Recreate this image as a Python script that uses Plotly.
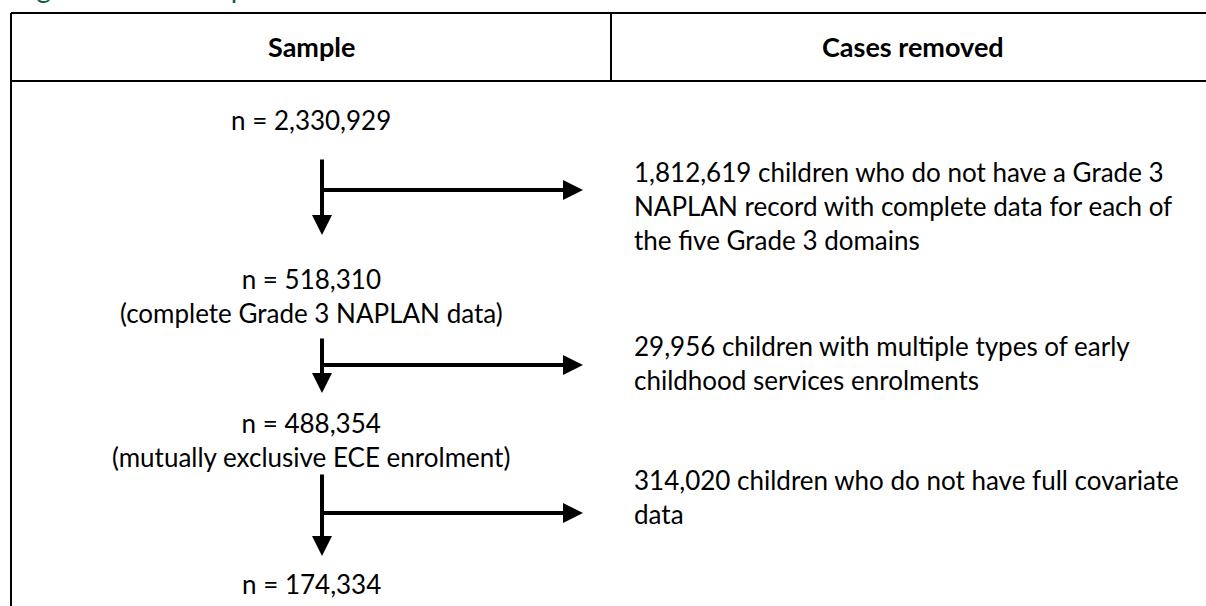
import plotly.graph_objects as go

# sample sizes at each step of the selection
sample_n = [2330929, 518310, 488354, 174334]
sample_note = ["", "complete Grade 3 NAPLAN data", "mutually exclusive ECE enrolment", ""]

# cases removed between steps
removed_n = [1812619, 29956, 314020]
removed_desc = [
    "children who do not have a Grade 3<br>NAPLAN record with complete data for each of<br>the five Grade 3 domains",
    "children with multiple types of early<br>childhood services enrolments",
    "children who do not have full covariate<br>data",
]

headers = ["Sample", "Cases removed"]
title = "Figure 1: The sample selection"

W, H = 1206, 606
FONT = "Lato, Open Sans, sans-serif"
FS = 26

# layout (pixels from top-left)
left_x, div_x = 11, 611
top_y, head_y = 13, 81
col_x = 311
arrow_x = 322
tip_x = 583
text_x = 632
sample_y = [120, 296, 440, 584]
arrow_rows = [(158, 190, 235), (337, 365, 393), (473, 513, 556)]
removed_y = [206, 363, 497]

fig = go.Figure()
fig.add_trace(go.Scatter(x=[0, W], y=[0, H], mode="markers", marker=dict(opacity=0),
                         hoverinfo="skip", showlegend=False))

# table rules
line = dict(color="black", width=2)
fig.add_shape(type="line", x0=left_x, x1=W + 5, y0=top_y, y1=top_y, line=line)
fig.add_shape(type="line", x0=left_x, x1=W + 5, y0=head_y, y1=head_y, line=line)
fig.add_shape(type="line", x0=div_x, x1=div_x, y0=top_y, y1=head_y, line=line)
fig.add_shape(type="line", x0=left_x, x1=left_x, y0=top_y, y1=H + 5, line=line)

# title (sits above the visible area, only descenders show)
fig.add_annotation(x=12 / W, y=1 + 13 / H, xref="paper", yref="paper", text=title, showarrow=False,
                   xanchor="left", yanchor="middle",
                   font=dict(family=FONT, size=28, color="#135e47"))

# headers
fig.add_annotation(x=col_x, y=46, text="<b>%s</b>" % headers[0], showarrow=False,
                   font=dict(family=FONT, size=27, color="black"))
fig.add_annotation(x=913, y=46, text="<b>%s</b>" % headers[1], showarrow=False,
                   font=dict(family=FONT, size=27, color="black"))

# sample counts
for n, note, y in zip(sample_n, sample_note, sample_y):
    txt = f"n = {n:,}"
    if note:
        txt += f"<br>({note})"
    fig.add_annotation(x=col_x, y=y, text=txt, showarrow=False, align="center",
                       font=dict(family=FONT, size=FS, color="black"))

# arrows and removed cases
arrow = dict(xref="x", yref="y", axref="x", ayref="y", text="", showarrow=True,
             arrowhead=2, arrowsize=1, arrowwidth=4, arrowcolor="black", standoff=0)
for n, desc, (y0, yh, y1), ty in zip(removed_n, removed_desc, arrow_rows, removed_y):
    fig.add_annotation(x=arrow_x, y=y1, ax=arrow_x, ay=y0, **arrow)
    fig.add_annotation(x=tip_x, y=yh, ax=arrow_x - 2, ay=yh, **arrow)
    fig.add_annotation(x=text_x, y=ty, text=f"{n:,} {desc}", showarrow=False, xanchor="left",
                       align="left", font=dict(family=FONT, size=FS, color="black"))

fig.update_xaxes(range=[0, W], visible=False, fixedrange=True)
fig.update_yaxes(range=[H, 0], visible=False, fixedrange=True)
fig.update_layout(width=W, height=H, margin=dict(l=0, r=0, t=0, b=0),
                  paper_bgcolor="white", plot_bgcolor="white", showlegend=False)

fig.write_html("out.html", config={"displayModeBar": False},
               post_script="document.body.style.margin='0';")
